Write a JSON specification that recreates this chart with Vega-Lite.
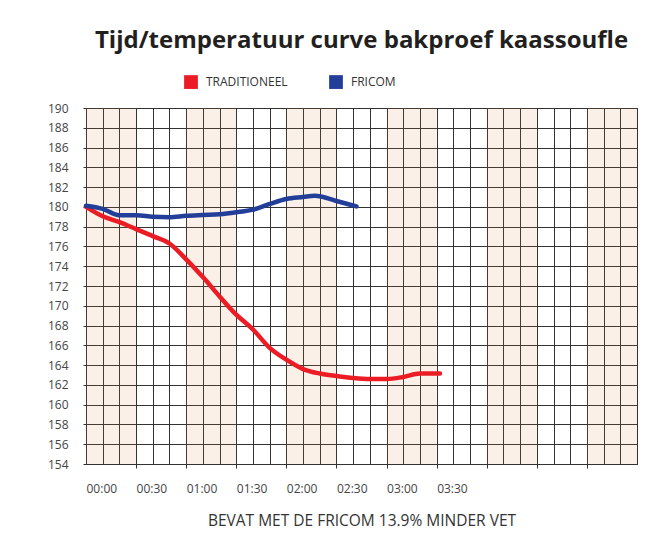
{
  "$schema": "https://vega.github.io/schema/vega-lite/v6.json",
  "width": 551,
  "height": 356,
  "autosize": {"type": "none"},
  "padding": {"left": 86, "top": 108, "right": 15, "bottom": 78},
  "background": "white",
  "title": {
    "text": "Tijd/temperatuur curve bakproef kaassoufle",
    "font": "Open Sans",
    "fontSize": 24,
    "fontWeight": "bold",
    "color": "#231f20",
    "anchor": "middle",
    "frame": "group",
    "baseline": "alphabetic",
    "offset": 3
  },
  "config": {
    "view": {"stroke": "#333", "strokeWidth": 1},
    "font": "Open Sans",
    "axisX": {
      "grid": true, "gridColor": "#333", "gridWidth": 1, "gridOpacity": 1,
      "domain": false,
      "tickColor": "#333", "tickSize": 4,
      "labelAlign": "left",
      "labelFont": "Open Sans", "labelFontSize": 12, "labelColor": "#444",
      "labelPadding": 15,
      "labelOverlap": false, "labelBound": false, "labelFlush": false,
      "titleFont": "Open Sans", "titleFontSize": 15.5, "titleFontWeight": "normal", "titleColor": "#333",
      "titlePadding": 19
    },
    "axisY": {
      "grid": true, "gridColor": "#333", "gridWidth": 1, "gridOpacity": 1,
      "domain": false,
      "tickColor": "#333", "tickSize": 3,
      "labelFont": "Open Sans", "labelFontSize": 12, "labelColor": "#444",
      "labelPadding": 15,
      "labelOverlap": false, "labelBound": false, "labelFlush": false
    }
  },
  "datasets": {
    "bands": [
      {"start": 0, "end": 30},
      {"start": 60, "end": 90},
      {"start": 120, "end": 150},
      {"start": 180, "end": 210},
      {"start": 240, "end": 270},
      {"start": 300, "end": 330}
    ],
    "curves": [
      {"serie": "TRADITIONEEL", "min": 0, "temp": 180.0},
      {"serie": "TRADITIONEEL", "min": 10, "temp": 179.05},
      {"serie": "TRADITIONEEL", "min": 20, "temp": 178.45},
      {"serie": "TRADITIONEEL", "min": 30, "temp": 177.75},
      {"serie": "TRADITIONEEL", "min": 40, "temp": 177.05},
      {"serie": "TRADITIONEEL", "min": 50, "temp": 176.3},
      {"serie": "TRADITIONEEL", "min": 60, "temp": 174.7},
      {"serie": "TRADITIONEEL", "min": 70, "temp": 172.9},
      {"serie": "TRADITIONEEL", "min": 80, "temp": 170.95},
      {"serie": "TRADITIONEEL", "min": 90, "temp": 169.1},
      {"serie": "TRADITIONEEL", "min": 100, "temp": 167.6},
      {"serie": "TRADITIONEEL", "min": 110, "temp": 165.75},
      {"serie": "TRADITIONEEL", "min": 120, "temp": 164.55},
      {"serie": "TRADITIONEEL", "min": 130, "temp": 163.6},
      {"serie": "TRADITIONEEL", "min": 140, "temp": 163.15},
      {"serie": "TRADITIONEEL", "min": 150, "temp": 162.9},
      {"serie": "TRADITIONEEL", "min": 160, "temp": 162.7},
      {"serie": "TRADITIONEEL", "min": 170, "temp": 162.6},
      {"serie": "TRADITIONEEL", "min": 180, "temp": 162.6},
      {"serie": "TRADITIONEEL", "min": 190, "temp": 162.8},
      {"serie": "TRADITIONEEL", "min": 200, "temp": 163.15},
      {"serie": "TRADITIONEEL", "min": 212, "temp": 163.15},
      {"serie": "FRICOM", "min": 0, "temp": 180.12},
      {"serie": "FRICOM", "min": 10, "temp": 179.8},
      {"serie": "FRICOM", "min": 20, "temp": 179.15},
      {"serie": "FRICOM", "min": 30, "temp": 179.15},
      {"serie": "FRICOM", "min": 40, "temp": 179.0},
      {"serie": "FRICOM", "min": 50, "temp": 178.95},
      {"serie": "FRICOM", "min": 60, "temp": 179.1},
      {"serie": "FRICOM", "min": 70, "temp": 179.18},
      {"serie": "FRICOM", "min": 80, "temp": 179.25},
      {"serie": "FRICOM", "min": 90, "temp": 179.45},
      {"serie": "FRICOM", "min": 100, "temp": 179.72},
      {"serie": "FRICOM", "min": 110, "temp": 180.3},
      {"serie": "FRICOM", "min": 120, "temp": 180.8},
      {"serie": "FRICOM", "min": 130, "temp": 181.0},
      {"serie": "FRICOM", "min": 137, "temp": 181.13},
      {"serie": "FRICOM", "min": 150, "temp": 180.6},
      {"serie": "FRICOM", "min": 162, "temp": 180.05}
    ]
  },
  "layer": [
    {
      "data": {"name": "bands"},
      "mark": {"type": "rect", "color": "#de8240", "opacity": 0.12},
      "encoding": {
        "x": {
          "field": "start", "type": "quantitative",
          "scale": {"domain": [0, 330], "nice": false, "zero": false},
          "axis": {
            "values": [0,10,20,30,40,50,60,70,80,90,100,110,120,130,140,150,160,170,180,190,200,210,220,230,240,250,260,270,280,290,300,310,320,330],
            "tickOpacity": {"condition": {"test": "datum.value % 30 == 0 && datum.value > 0 && datum.value < 330", "value": 1}, "value": 0},
            "labelExpr": "(datum.value % 30 == 0 && datum.value <= 210) ? ((floor(datum.value/60) < 10 ? '0' : '') + floor(datum.value/60) + ':' + (datum.value % 60 < 10 ? '0' : '') + (datum.value % 60)) : ''",
            "title": "BEVAT MET DE FRICOM 13.9% MINDER VET"
          }
        },
        "x2": {"field": "end"},
        "y": {
          "datum": 154, "type": "quantitative",
          "scale": {"domain": [154, 190], "nice": false, "zero": false},
          "axis": {
            "values": [154,156,158,160,162,164,166,168,170,172,174,176,178,180,182,184,186,188,190],
            "title": null
          }
        },
        "y2": {"datum": 190}
      }
    },
    {
      "data": {"name": "curves"},
      "mark": {"type": "line", "strokeWidth": 4.5, "interpolate": "monotone", "strokeCap": "round", "strokeJoin": "round"},
      "encoding": {
        "x": {
          "field": "min", "type": "quantitative",
          "scale": {"domain": [0, 330], "nice": false, "zero": false},
          "axis": {
            "values": [0,10,20,30,40,50,60,70,80,90,100,110,120,130,140,150,160,170,180,190,200,210,220,230,240,250,260,270,280,290,300,310,320,330],
            "tickOpacity": {"condition": {"test": "datum.value % 30 == 0 && datum.value > 0 && datum.value < 330", "value": 1}, "value": 0},
            "labelExpr": "(datum.value % 30 == 0 && datum.value <= 210) ? ((floor(datum.value/60) < 10 ? '0' : '') + floor(datum.value/60) + ':' + (datum.value % 60 < 10 ? '0' : '') + (datum.value % 60)) : ''",
            "title": "BEVAT MET DE FRICOM 13.9% MINDER VET"
          }
        },
        "y": {
          "field": "temp", "type": "quantitative",
          "scale": {"domain": [154, 190], "nice": false, "zero": false},
          "axis": {
            "values": [154,156,158,160,162,164,166,168,170,172,174,176,178,180,182,184,186,188,190],
            "title": null
          }
        },
        "color": {
          "field": "serie", "type": "nominal",
          "scale": {"domain": ["TRADITIONEEL", "FRICOM"], "range": ["#ec1c24", "#233e99"]},
          "legend": {
            "title": null,
            "orient": "none",
            "legendX": 98,
            "legendY": -33,
            "direction": "horizontal",
            "padding": 0,
            "symbolType": "square",
            "symbolSize": 190,
            "symbolStrokeWidth": 0,
            "labelFont": "Open Sans", "labelFontSize": 12, "labelColor": "#333",
            "labelOffset": 8,
            "columnPadding": 41,
            "encode": {"symbols": {"update": {"fill": {"signal": "scale('color', datum.value)"}, "strokeWidth": {"value": 0}}}}
          }
        }
      }
    }
  ]
}
